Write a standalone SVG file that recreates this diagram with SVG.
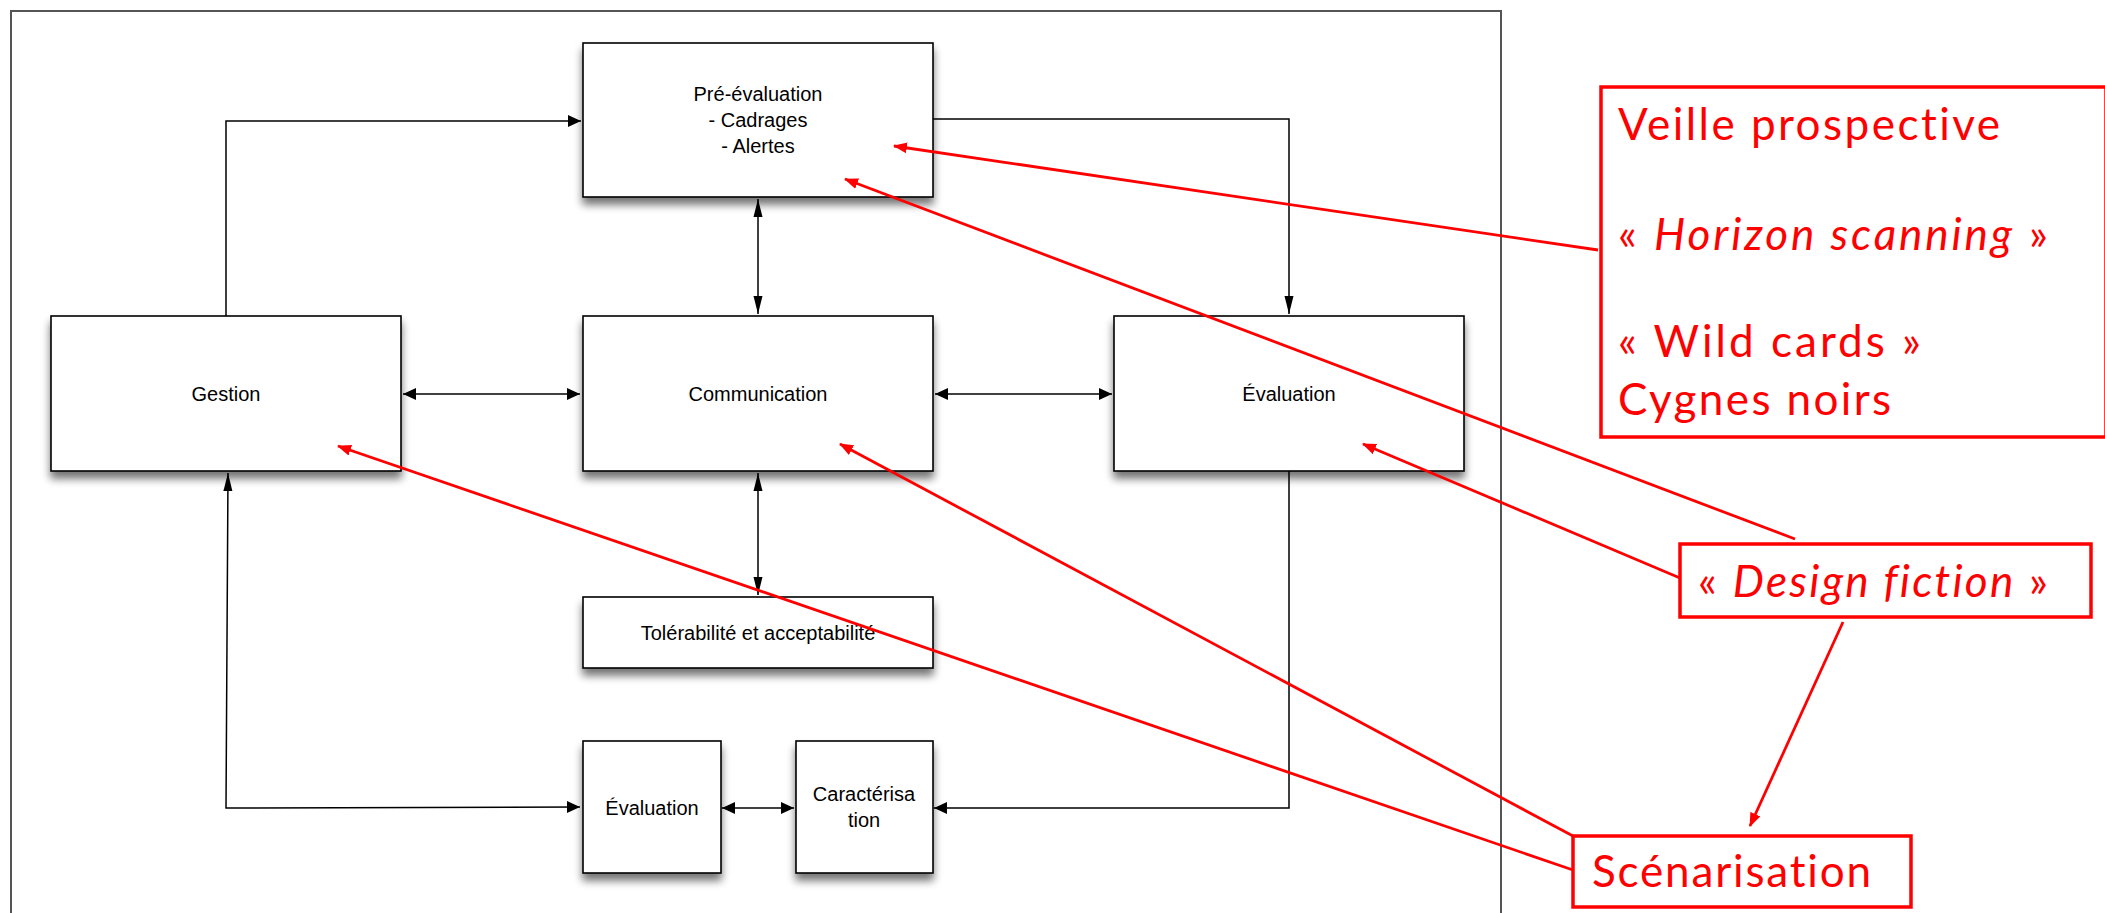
<svg xmlns="http://www.w3.org/2000/svg" width="2105" height="913" viewBox="0 0 2105 913">
<style>
.box{fill:#fff;stroke:#000;stroke-width:1.6;filter:url(#sh)}
.lbl{font-family:"Liberation Sans",Arial,sans-serif;font-size:20px;fill:#000;text-anchor:middle}
.con{fill:none;stroke:#000;stroke-width:1.5}
.rbox{fill:none;stroke:#ff0000;stroke-width:3.5}
.rtxt{font-family:Lato,"Open Sans",sans-serif;font-size:44px;fill:#ff0000;font-variant-ligatures:none;font-feature-settings:"liga" 0,"dlig" 0}
.rl{fill:none;stroke:#ff0000;stroke-width:2.8}
</style>
<defs>
<filter id="sh" x="-10%" y="-10%" width="120%" height="140%">
<feGaussianBlur in="SourceAlpha" stdDeviation="4"/>
<feOffset dx="0" dy="7" result="b"/>
<feComponentTransfer><feFuncA type="linear" slope="0.55"/></feComponentTransfer>
<feMerge><feMergeNode/><feMergeNode in="SourceGraphic"/></feMerge>
</filter>
<marker id="fat" markerUnits="userSpaceOnUse" markerWidth="14" markerHeight="14" refX="13" refY="7" orient="auto-start-reverse">
<path d="M0,1 L13,7 L0,13 z" fill="#000"/>
</marker>
<marker id="thin" markerUnits="userSpaceOnUse" markerWidth="18" markerHeight="10" refX="18" refY="5" orient="auto-start-reverse">
<path d="M0,0.5 L18,5 L0,9.5 z" fill="#000"/>
</marker>
<marker id="red" markerUnits="userSpaceOnUse" markerWidth="14" markerHeight="12" refX="13" refY="6" orient="auto">
<path d="M0,0.5 L14,6 L0,11.5 z" fill="#ff0000"/>
</marker>
</defs>
<rect width="2105" height="913" fill="#fff"/>
<rect id="frame" x="11" y="11" width="1490" height="910" fill="none" stroke="#555" stroke-width="2"/>

<g id="connectors">
<polyline class="con" points="226,316 226,121 581,121" marker-end="url(#fat)"/>
<polyline class="con" points="933,119 1289,119 1289,314" marker-end="url(#thin)"/>
<line class="con" x1="758" y1="199" x2="758" y2="314" marker-start="url(#thin)" marker-end="url(#thin)"/>
<line class="con" x1="403" y1="394" x2="580" y2="394" stroke-width="2.5" marker-start="url(#fat)" marker-end="url(#fat)"/>
<line class="con" x1="935" y1="394" x2="1112" y2="394" stroke-width="2.5" marker-start="url(#fat)" marker-end="url(#fat)"/>
<line class="con" x1="758" y1="473" x2="758" y2="595" marker-start="url(#thin)" marker-end="url(#thin)"/>
<polyline class="con" points="228,473 226,808 580,807" marker-start="url(#thin)" marker-end="url(#fat)"/>
<polyline class="con" points="1289,471 1289,808 934,808" marker-end="url(#fat)"/>
<line class="con" x1="722" y1="808" x2="794" y2="808" stroke-width="2.5" marker-start="url(#fat)" marker-end="url(#fat)"/>
</g>

<g id="preevaluation">
<rect class="box" x="583" y="43" width="350" height="154"/>
<text class="lbl" x="758" y="101">Pré-évaluation</text>
<text class="lbl" x="758" y="127">- Cadrages</text>
<text class="lbl" x="758" y="153">- Alertes</text>
</g>
<g id="gestion">
<rect class="box" x="51" y="316" width="350" height="155"/>
<text class="lbl" x="226" y="401">Gestion</text>
</g>
<g id="communication">
<rect class="box" x="583" y="316" width="350" height="155"/>
<text class="lbl" x="758" y="401">Communication</text>
</g>
<g id="evaluation">
<rect class="box" x="1114" y="316" width="350" height="155"/>
<text class="lbl" x="1289" y="401">Évaluation</text>
</g>
<g id="tolerabilite">
<rect class="box" x="583" y="597" width="350" height="71"/>
<text class="lbl" x="758" y="640">Tolérabilité et acceptabilité</text>
</g>
<g id="evaluation2">
<rect class="box" x="583" y="741" width="138" height="132"/>
<text class="lbl" x="652" y="815">Évaluation</text>
</g>
<g id="caracterisation">
<rect class="box" x="796" y="741" width="137" height="132"/>
<text class="lbl" x="864" y="801">Caractérisa</text>
<text class="lbl" x="864" y="827">tion</text>
</g>

<g id="red-connectors">
<line class="rl" x1="1598" y1="250" x2="894" y2="146" marker-end="url(#red)"/>
<line class="rl" x1="1795" y1="539" x2="845" y2="179" marker-end="url(#red)"/>
<line class="rl" x1="1680" y1="578" x2="1363" y2="444" marker-end="url(#red)"/>
<line class="rl" x1="1843" y1="622" x2="1750" y2="826" marker-end="url(#red)"/>
<line class="rl" x1="1573" y1="836" x2="840" y2="444" marker-end="url(#red)"/>
<line class="rl" x1="1573" y1="870" x2="338" y2="446" marker-end="url(#red)"/>
</g>

<g id="veille">
<rect class="rbox" x="1601" y="87" width="505" height="350"/>
<text class="rtxt" x="1618" y="140" textLength="382" lengthAdjust="spacing">Veille prospective</text>
<text class="rtxt" x="1618" y="250" textLength="430" lengthAdjust="spacing">« <tspan font-style="italic">Horizon scanning</tspan> »</text>
<text class="rtxt" x="1618" y="357" textLength="303" lengthAdjust="spacing">« Wild cards »</text>
<text class="rtxt" x="1618" y="415" textLength="273" lengthAdjust="spacing">Cygnes noirs</text>
</g>
<g id="designfiction">
<rect class="rbox" x="1680" y="544" width="411" height="73" stroke-width="4.5"/>
<text class="rtxt" x="1698" y="597" textLength="350" lengthAdjust="spacing">« <tspan font-style="italic">Design fiction</tspan> »</text>
</g>
<g id="scenarisation">
<rect class="rbox" x="1573" y="836" width="338" height="71" stroke-width="3"/>
<text class="rtxt" x="1592" y="887" textLength="279" lengthAdjust="spacing">Scénarisation</text>
</g>
</svg>
